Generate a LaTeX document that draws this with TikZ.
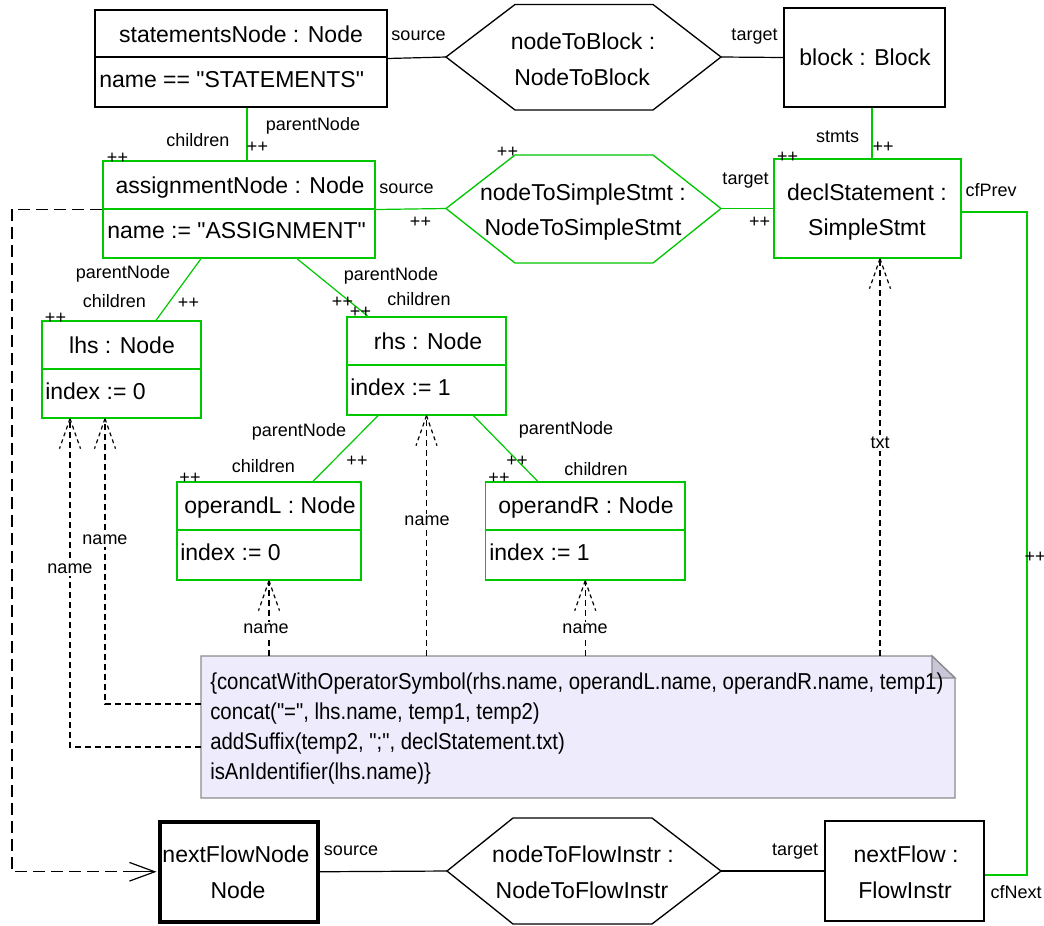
\documentclass[tikz,border=0pt]{standalone}
\usepackage{fontspec}
\setmainfont{Liberation Sans}
\newfontfamily\plainf{Liberation Sans}
\newfontfamily\notefont[FakeStretch=0.885]{Liberation Sans}
\usetikzlibrary{arrows.meta,fit,calc}
\definecolor{grn}{RGB}{0,200,0}
\definecolor{notefill}{RGB}{238,236,252}
\definecolor{notefold}{RGB}{200,198,215}
\definecolor{noteline}{RGB}{140,140,140}
\newcommand\dhead[1]{\draw[dwing] (#1) -- ++(-10.5,30); \draw[dwing] (#1) -- ++(10.5,30);}
\begin{document}
\begin{tikzpicture}[x=0.75pt,y=-0.75pt,
 bbox/.style={draw=black,line width=1pt,inner sep=0pt},
 gbox/.style={draw=grn,line width=1pt,inner sep=0pt},
 ttl/.style={font=\plainf\fontsize{17.25}{20}\selectfont,anchor=base,inner sep=0pt},
 attr/.style={font=\plainf\fontsize{17.25}{20}\selectfont,anchor=base west,inner sep=0pt},
 ntxt/.style={font=\notefont\fontsize{17.25}{20}\selectfont,anchor=base west,inner sep=0pt},
 lbl/.style={font=\plainf\fontsize{13.5}{15}\selectfont,anchor=base,inner sep=0pt},
 pp/.style={font=\plainf\fontsize{13.5}{15}\selectfont,anchor=center,inner sep=0pt},
 nlbl/.style={font=\plainf\fontsize{13.5}{15}\selectfont,fill=white,inner sep=1.5pt,anchor=center},
 blk/.style={draw=black,line width=0.9pt},
 gln/.style={draw=grn,line width=0.9pt},
 dsh/.style={draw=black,line width=0.9pt,dash pattern=on 4.5pt off 3pt},
 dwing/.style={draw=black,line width=0.9pt,dash pattern=on 3pt off 2.5pt},
 bigdsh/.style={draw=black,line width=0.9pt,dash pattern=on 9pt off 4.5pt},
]
\useasboundingbox (0,0) rectangle (1044,925);
\fill[white] (0,0) rectangle (1044,925);

% ---------- boxes ----------
\node[bbox, fit={(95,10) (387,107)}] (stmt) {};
\draw[blk,line width=1pt] (95,57) -- (387,57);
\node[ttl] (stmtT) at (241,42) {statementsNode : Node};
\node[attr] (stmtA) at (99,87) {name == "STATEMENTS"};

\node[bbox, fit={(784,8) (945,107)}] (block) {};
\node[ttl] (blockT) at (865,65) {block : Block};

\node[gbox, fit={(103,161) (375,258)}] (assign) {};
\draw[gln,line width=1pt] (103,209) -- (375,209);
\node[ttl] (assignT) at (240,193) {assignmentNode : Node};
\node[attr] (assignA) at (107,238) {name := "ASSIGNMENT"};

\node[gbox, fit={(774,159) (961,258)}] (decl) {};
\node[ttl] (declT1) at (867,200) {declStatement :};
\node[ttl] (declT2) at (867,235) {SimpleStmt};

\node[gbox, fit={(42,321) (201,418)}] (lhs) {};
\draw[gln,line width=1pt] (42,369) -- (201,369);
\node[ttl] (lhsT) at (122,353) {lhs : Node};
\node[attr] (lhsA) at (45,399) {index := 0};

\node[gbox, fit={(347,317) (506,415)}] (rhs) {};
\draw[gln,line width=1pt] (347,365) -- (506,365);
\node[ttl] (rhsT) at (428,349) {rhs : Node};
\node[attr] (rhsA) at (350,395) {index := 1};

\node[gbox, fit={(177,482) (361,580)}] (opL) {};
\draw[gln,line width=1pt] (177,530) -- (361,530);
\node[ttl] (opLT) at (270,513) {operandL : Node};
\node[attr] (opLA) at (180,560) {index := 0};

\node[gbox, fit={(485.5,482) (685,580)}] (opR) {};
\draw[gln,line width=1pt] (485.5,530) -- (685,530);
\node[ttl] (opRT) at (586,513) {operandR : Node};
\node[attr] (opRA) at (489,560) {index := 1};

\node[draw=black,line width=3pt,inner sep=0pt, fit={(159.5,821.5) (318,922)}] (nfn) {};
\node[ttl] (nfnT1) at (236,862) {nextFlowNode};
\node[ttl] (nfnT2) at (238,898) {Node};

\node[bbox, fit={(825,821) (984,921)}] (nf) {};
\node[ttl] (nfT1) at (906,862) {nextFlow :};
\node[ttl] (nfT2) at (905,898) {FlowInstr};

% ---------- hexagons ----------
\coordinate (h1W) at (446,57); \coordinate (h1E) at (721,57);
\draw[blk,line width=1pt] (h1W) -- (515,4.5) -- (653,4.5) -- (h1E) -- (653,110) -- (515,110) -- cycle;
\node[ttl] (h1T1) at (583,49) {nodeToBlock :};
\node[ttl] (h1T2) at (582,85) {NodeToBlock};

\coordinate (h2W) at (446,208.5); \coordinate (h2E) at (721,208.5);
\draw[gln,line width=1pt] (h2W) -- (515,155) -- (653,155) -- (h2E) -- (653,263) -- (515,263) -- cycle;
\node[ttl] (h2T1) at (583,200) {nodeToSimpleStmt :};
\node[ttl] (h2T2) at (583,235) {NodeToSimpleStmt};

\coordinate (h3W) at (447,871); \coordinate (h3E) at (721,871);
\draw[blk,line width=1pt] (h3W) -- (513,818) -- (652,818) -- (h3E) -- (652,924) -- (513,924) -- cycle;
\node[ttl] (h3T1) at (583,862) {nodeToFlowInstr :};
\node[ttl] (h3T2) at (582,898) {NodeToFlowInstr};

% ---------- note ----------
\fill[notefill] (201,656) -- (932,656) -- (955,678) -- (955,798) -- (201,798) -- cycle;
\draw[noteline,line width=1pt] (201,656) -- (932,656) -- (955,678) -- (955,798) -- (201,798) -- cycle;
\filldraw[fill=notefold,draw=noteline,line width=1pt] (932,656) -- (932,678) -- (955,678) -- cycle;
\node[inner sep=0pt, fit={(201,656) (955,798)}] (note) {};
\node[ntxt] (n1) at (210,689) {\{concatWithOperatorSymbol(rhs.name, operandL.name, operandR.name, temp1)};
\node[ntxt] (n2) at (210,719) {concat("=", lhs.name, temp1, temp2)};
\node[ntxt] (n3) at (210,749) {addSuffix(temp2, ";", declStatement.txt)};
\node[ntxt] (n4) at (210,779) {isAnIdentifier(lhs.name)\}};

% ---------- black links ----------
\draw[blk] (stmt.east) -- (h1W);
\draw[blk] (h1E) -- (block.west);
\draw[blk] (nfn.east) -- (h3W);
\draw[blk] (h3E) -- (nf.west);

% ---------- green links ----------
\draw[gln] ($(stmt.south)+(6,0)$) -- ($(assign.north)+(8,0)$);
\draw[gln] (assign.east) -- (h2W);
\draw[gln] (h2E) -- (decl.west);
\draw[gln] ($(block.south)+(7.5,0)$) -- ($(decl.north)+(4.5,0)$);
\draw[gln] ($(assign.south)+(-38,0)$) -- ($(lhs.north)+(34.5,0)$);
\draw[gln] ($(assign.south)+(58,0)$) -- ($(rhs.north)+(-58.5,0)$);
\draw[gln] ($(rhs.south)+(-48.5,0)$) -- ($(opL.north)+(44,0)$);
\draw[gln] ($(rhs.south)+(47,0)$) -- ($(opR.north)+(-47.5,0)$);
\coordinate (cfP) at ($(decl.east)+(0,3.5)$);
\coordinate (rcol) at (1027,500);
\coordinate (cfN) at ($(nf.east)+(0,4)$);
\draw[gln] (cfP) -| (rcol) |- (cfN);

% ---------- dashed links ----------
\coordinate (bigL) at (12,500);
\draw[bigdsh] (assign.west) -| (bigL) |- (nfn.west);
\draw[blk,-{Straight Barb[length=19pt,width=14pt]}] ($(nfn.west)+(-30,0)$) -- ($(nfn.west)+(-1,0)$);

\coordinate (lhsIn1) at ($(lhs.south)+(-16.5,0)$);
\coordinate (lhsIn2) at ($(lhs.south)+(-51.5,0)$);
\coordinate (nL1) at ($(note.west)+(0,-23)$);
\coordinate (nL2) at ($(note.west)+(0,20)$);
\draw[dsh] (nL1) -| (lhsIn1); \dhead{lhsIn1}
\draw[dsh] (nL2) -| (lhsIn2); \dhead{lhsIn2}
\draw[dsh] (opL.south |- note.north) -- (opL.south); \dhead{opL.south}
\draw[dsh] (rhs.south |- note.north) -- (rhs.south); \dhead{rhs.south}
\draw[dsh] (opR.south |- note.north) -- (opR.south); \dhead{opR.south}
\coordinate (declIn) at ($(decl.south)+(12.5,0)$);
\draw[dsh] (declIn |- note.north) -- (declIn); \dhead{declIn}

\node[nlbl] (nm1) at (70,569) {name};
\node[nlbl] (nm2) at (105,540) {name};
\node[nlbl] (nm3) at (427,521) {name};
\node[nlbl] (nm4) at (266,629) {name};
\node[nlbl] (nm5) at (585,629) {name};
\node[nlbl] (txt) at (880,443) {txt};

% ---------- labels ----------
\node[lbl] (l1) at (418.5,40) {source};
\node[lbl] (l2) at (754.5,40) {target};
\node[lbl] (l3) at (313,130) {parentNode};
\node[lbl] (l4) at (198,146) {children};
\node[pp] (p1) at (257.5,147) {++};
\node[pp] (p2) at (117.5,158) {++};
\node[lbl] (l5) at (406.5,193) {source};
\node[pp] (p3) at (420.5,222) {++};
\node[pp] (p4) at (507.5,152) {++};
\node[lbl] (l6) at (745.5,184) {target};
\node[pp] (p5) at (759.5,222) {++};
\node[pp] (p6) at (787.5,157) {++};
\node[lbl] (l7) at (837.5,142) {stmts};
\node[pp] (p7) at (883,147) {++};
\node[lbl] (l8) at (991,196) {cfPrev};
\node[lbl] (l9) at (123,278) {parentNode};
\node[lbl] (l10) at (114.5,307) {children};
\node[pp] (p8) at (188.5,303) {++};
\node[pp] (p9) at (55.5,318) {++};
\node[lbl] (l11) at (391,280) {parentNode};
\node[lbl] (l12) at (419,305) {children};
\node[pp] (p10) at (342.5,302) {++};
\node[pp] (p11) at (360.5,312) {++};
\node[lbl] (l13) at (299,436) {parentNode};
\node[lbl] (l14) at (263.5,472) {children};
\node[pp] (p12) at (357,461) {++};
\node[pp] (p13) at (190,478) {++};
\node[lbl] (l15) at (566,434) {parentNode};
\node[lbl] (l16) at (596,475) {children};
\node[pp] (p14) at (517,461) {++};
\node[pp] (p15) at (499,478) {++};
\node[pp] (p16) at (1035,557) {++};
\node[lbl] (l17) at (351,855) {source};
\node[lbl] (l18) at (795,855) {target};
\node[lbl] (l19) at (1016,898) {cfNext};
\end{tikzpicture}
\end{document}
